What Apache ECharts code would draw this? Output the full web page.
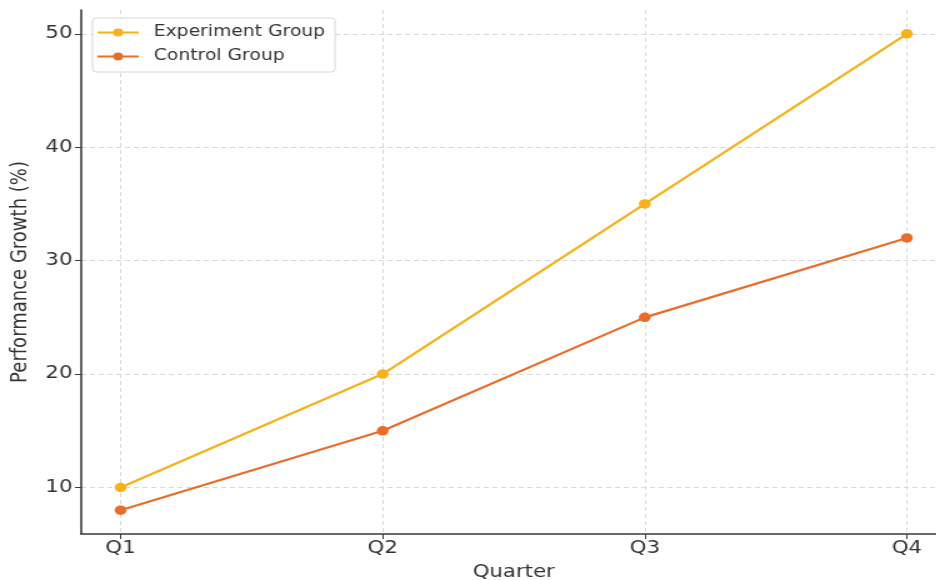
<!DOCTYPE html>
<html>
<head>
<meta charset="utf-8">
<script src="https://cdn.jsdelivr.net/npm/echarts@6/dist/echarts.min.js"></script>
<style>
  html, body { margin: 0; padding: 0; background: #fff; overflow: hidden; }
  #frame { width: 936px; height: 580px; overflow: hidden; }
  /* the figure is laid out at a narrower width and widened horizontally */
  #chart { width: 749px; height: 580px; transform: scaleX(1.25); transform-origin: 0 0; }
</style>
</head>
<body>
<div id="frame"><div id="chart"></div></div>
<script>
// Quarterly performance growth for the two groups
const quarters = ['Q1', 'Q2', 'Q3', 'Q4'];
const experimentGroup = [10, 20, 35, 50];
const controlGroup = [8, 15, 25, 32];
const yTicks = [10, 20, 30, 40, 50];

const FONT = 'DejaVu Sans';
const AXIS_COLOR = '#3a3a3a';
const TEXT_COLOR = '#333333';
const GRID_COLOR = '#d9d9d9';

// Quarters sit at integer positions 0..n-1 on a value axis so the plot keeps
// a small margin around the first and last points.
const toPoints = vals => vals.map((v, i) => [i, v]);
const xPositions = quarters.map((_, i) => i);

const allVals = experimentGroup.concat(controlGroup);
const yLo = Math.min(...allVals), yHi = Math.max(...allVals);
const yPad = (yHi - yLo) * 0.05;
const xPad = (quarters.length - 1) * 0.05;

const chart = echarts.init(document.getElementById('chart'), null, { renderer: 'canvas' });

const makeSeries = (name, vals, color) => ({
  name,
  type: 'line',
  data: toPoints(vals),
  symbol: 'circle',
  symbolSize: 9.5,
  lineStyle: { color, width: 2.2 },
  itemStyle: { color },
  emphasis: { disabled: true },
  animation: false
});

chart.setOption({
  animation: false,
  grid: { left: 65, top: 10, width: 692, bottom: 46, containLabel: false, outerBoundsMode: 'none' },
  legend: {
    orient: 'vertical',
    left: 74,
    top: 18,
    itemWidth: 33,
    itemHeight: 10,
    itemGap: 9,
    padding: [7, 8, 8, 3],
    backgroundColor: 'rgba(255,255,255,0.8)',
    borderColor: '#d6d6d6',
    borderWidth: 1,
    borderRadius: 3,
    textStyle: { fontFamily: FONT, fontSize: 15, color: TEXT_COLOR, padding: [0, 0, 0, 7] },
    data: ['Experiment Group', 'Control Group']
  },
  xAxis: {
    type: 'value',
    min: -xPad,
    max: quarters.length - 1 + xPad,
    name: 'Quarter',
    nameLocation: 'middle',
    nameGap: 30,
    nameTextStyle: { fontFamily: FONT, fontSize: 17, color: TEXT_COLOR },
    axisLine: { show: true, onZero: false, lineStyle: { color: AXIS_COLOR, width: 1.6 } },
    axisTick: { show: true, inside: false, length: 5, customValues: xPositions, lineStyle: { color: AXIS_COLOR, width: 1 } },
    axisLabel: {
      customValues: xPositions,
      formatter: v => quarters[Math.round(v)] || '',
      fontFamily: FONT, fontSize: 17, color: TEXT_COLOR, margin: 6
    },
    splitLine: { show: true, lineStyle: { color: GRID_COLOR, type: [4, 3], width: 1 } }
  },
  yAxis: {
    type: 'value',
    min: yLo - yPad,
    max: yHi + yPad,
    name: 'Performance Growth (%)',
    nameLocation: 'middle',
    nameGap: 38,
    nameRotate: 90,
    nameTextStyle: { fontFamily: FONT, fontSize: 18, color: TEXT_COLOR },
    axisLine: { show: true, onZero: false, lineStyle: { color: AXIS_COLOR, width: 1.6 } },
    axisTick: { show: true, inside: false, length: 5, customValues: yTicks, lineStyle: { color: AXIS_COLOR, width: 1 } },
    axisLabel: {
      customValues: yTicks,
      fontFamily: FONT, fontSize: 17, color: TEXT_COLOR, margin: 7
    },
    splitLine: { show: true, lineStyle: { color: GRID_COLOR, type: [4, 3], width: 1 } }
  },
  series: [
    makeSeries('Experiment Group', experimentGroup, '#f5b21b'),
    makeSeries('Control Group', controlGroup, '#e86d2b')
  ]
});
</script>
</body>
</html>
